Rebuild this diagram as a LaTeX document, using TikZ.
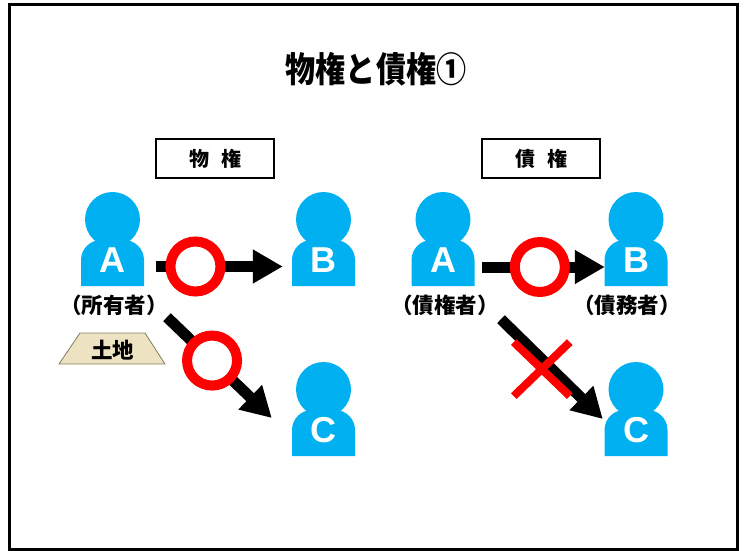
\documentclass[tikz,border=0pt]{standalone}
\usepackage{fontspec}
\usepackage{graphicx}
\setmainfont{Liberation Sans}
\newfontfamily\jp{Noto Sans CJK JP}
\usetikzlibrary{arrows.meta}
\definecolor{pblue}{RGB}{0,176,240}
\definecolor{land}{RGB}{237,227,195}
\definecolor{landedge}{RGB}{130,125,95}
\tikzset{
  arr/.style={line width=11pt, black, -{Triangle[length=30pt,width=32pt]}},
  okmark/.style={circle, draw=red, fill=white, line width=10pt, minimum size=50pt, inner sep=0pt},
  titlebox/.style={draw=black, line width=1.6pt, minimum width=118pt, minimum height=39pt, inner sep=0pt, font=\jp\bfseries\fontsize{20pt}{20pt}\selectfont},
  rolelabel/.style={font=\jp\bfseries\fontsize{21.5pt}{21.5pt}\selectfont, inner sep=0pt},
  letter/.style={text=white, font=\bfseries\fontsize{36pt}{36pt}\selectfont, inner sep=0pt},
  ngmark/.style={red, line width=8pt},
}
\newcommand{\personfig}[4]{%
  \begin{scope}[shift={(#2,#3)}]
    \fill[pblue] (0,0) circle[radius=27.5];
    \fill[pblue] (-31.5,66.5) -- (-31.5,40.5) arc[start angle=180,end angle=270,radius=20]
      -- (11.5,20.5) arc[start angle=270,end angle=360,radius=20] -- (31.5,66.5) -- cycle;
    \node[minimum width=63pt, minimum height=46pt, inner sep=0pt] (#1) at (0,43.5) {};
    \node[letter] (#1l) at (0,41) {#4};
  \end{scope}}
\begin{document}
\begin{tikzpicture}[x=1pt,y=-1pt]
\useasboundingbox (0,0) rectangle (750,551);
\draw[line width=3pt] (9.5,5) rectangle (737,549.5);
\node[font=\jp\bfseries\fontsize{35pt}{35pt}\selectfont, inner sep=0pt] (title) at (376,69) {\scalebox{0.86}[1]{物権と債権①}};
\node[titlebox] (bukken) at (215,158.5) {物\hspace{0.6em}権};
\node[titlebox] (saiken) at (541,158.5) {債\hspace{0.6em}権};
% persons
\personfig{AL}{112.5}{219.5}{A}
\personfig{BL}{323.5}{219.5}{B}
\personfig{CL}{323.5}{389.5}{C}
\personfig{AR}{443}{219.5}{A}
\personfig{BR}{636}{219.5}{B}
\personfig{CR}{636}{389.5}{C}
% labels
\node[rolelabel] (lAL) at (114,305) {（所有者）};
\node[rolelabel] (lAR) at (445,305) {（債権者）};
\node[rolelabel] (lBR) at (627,305) {（債務者）};
% land
\fill[land, draw=landedge, line width=0.8pt] (59,364) -- (80,333) -- (145,333) -- (165,364) -- cycle;
\node[rolelabel] (tochi) at (112.5,350) {土地};
% arrows
\draw[arr] ([shift={(12,3.5)}]AL.east) -- ([shift={(-9,3.5)}]BL.west) node[okmark, pos=0.31] (ok1) {};
\draw[arr] ([shift={(54.5,31)}]AL.south) -- ([shift={(-20,-15)}]CL.west) node[okmark, pos=0.43] (ok2) {};
\draw[arr] ([shift={(7.5,4)}]AR.east) -- ([shift={(0.5,4)}]BR.west) node[okmark, pos=0.47] (ok3) {};
\draw[arr] ([shift={(58,33)}]AR.south) -- ([shift={(-1.5,-14)}]CR.west) coordinate[pos=0.43] (ng);
\coordinate (ngc) at ([shift={(-3,7)}]ng);
\draw[ngmark] ([shift={(-28,-27)}]ngc) -- ([shift={(28,27)}]ngc);
\draw[ngmark] ([shift={(-28,27)}]ngc) -- ([shift={(28,-27)}]ngc);
\end{tikzpicture}
\end{document}
